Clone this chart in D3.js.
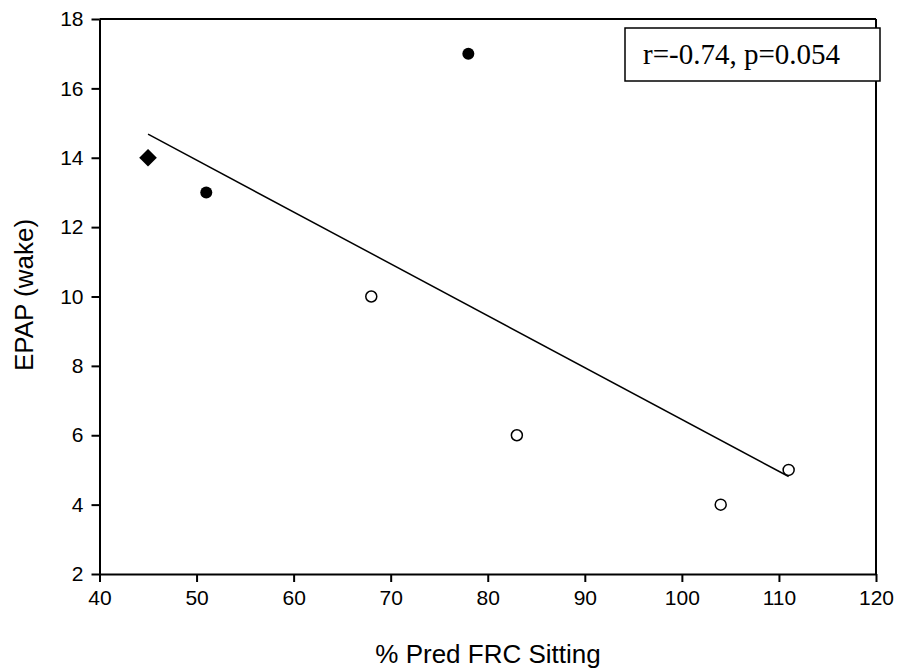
<!DOCTYPE html>
<html>
<head>
<meta charset="utf-8">
<script src="https://cdn.jsdelivr.net/npm/d3@7"></script>
<style>
body { margin: 0; background: #fff; }
</style>
</head>
<body>
<svg id="chart"></svg>
<script>
// data
var filledX = [78, 51];
var filledY = [17, 13];
var diamondX = [45];
var diamondY = [14];
var openX = [68, 83, 104, 111];
var openY = [10, 6, 4, 5];
var fitX = [45, 111];
var fitY = [14.68, 4.81];
var xTicks = [40, 50, 60, 70, 80, 90, 100, 110, 120];
var yTicks = [2, 4, 6, 8, 10, 12, 14, 16, 18];
var statText = 'r=-0.74, p=0.054';

var svgWidth = 899;
var svgHeight = 672;

var svg = d3.select('#chart')
    .attr('width', svgWidth)
    .attr('height', svgHeight);

var plotLeft = 99.5, plotRight = 876, plotTop = 19, plotBottom = 574;

var xScale = d3.scaleLinear().domain([40, 120]).range([plotLeft, plotRight]);
var yScale = d3.scaleLinear().domain([2, 18]).range([plotBottom, plotTop]);

var xAxis = d3.axisBottom(xScale).tickValues(xTicks).tickSize(8).tickPadding(8).tickSizeOuter(0);
var yAxis = d3.axisLeft(yScale).tickValues(yTicks).tickSize(8).tickPadding(8).tickSizeOuter(0);

var gx = svg.append('g')
    .attr('transform', `translate(0,${plotBottom})`)
    .call(xAxis);
var gy = svg.append('g')
    .attr('transform', `translate(${plotLeft},0)`)
    .call(yAxis);

[gx, gy].forEach(function (g) {
    g.selectAll('path, line').attr('stroke', '#000').attr('stroke-width', 2);
    g.selectAll('text')
        .attr('fill', '#000')
        .style('font-family', 'Arial, "Liberation Sans", sans-serif')
        .style('font-size', '21px');
});

// top and right frame
svg.append('line')
    .attr('x1', plotLeft).attr('x2', plotRight)
    .attr('y1', plotTop).attr('y2', plotTop)
    .attr('stroke', '#000').attr('stroke-width', 2);
svg.append('line')
    .attr('x1', plotRight).attr('x2', plotRight)
    .attr('y1', plotTop).attr('y2', plotBottom)
    .attr('stroke', '#000').attr('stroke-width', 2);

// regression line
svg.append('line')
    .attr('x1', xScale(fitX[0])).attr('y1', yScale(fitY[0]))
    .attr('x2', xScale(fitX[1])).attr('y2', yScale(fitY[1]))
    .attr('stroke', '#000').attr('stroke-width', 1.5);

svg.selectAll('circle.filled')
    .data(filledX)
    .enter()
    .append('circle')
    .attr('class', 'filled')
    .attr('cx', function (d) { return xScale(d); })
    .attr('cy', function (d, i) { return yScale(filledY[i]); })
    .attr('r', 6)
    .attr('fill', '#000');

svg.selectAll('circle.open')
    .data(openX)
    .enter()
    .append('circle')
    .attr('class', 'open')
    .attr('cx', function (d) { return xScale(d); })
    .attr('cy', function (d, i) { return yScale(openY[i]); })
    .attr('r', 5.5)
    .attr('fill', '#fff')
    .attr('stroke', '#000')
    .attr('stroke-width', 1.5);

svg.selectAll('path.diamond')
    .data(diamondX)
    .enter()
    .append('path')
    .attr('class', 'diamond')
    .attr('d', d3.symbol().type(d3.symbolDiamond2).size(150))
    .attr('transform', function (d, i) {
        return `translate(${xScale(d)},${yScale(diamondY[i])}) scale(1.15)`;
    })
    .attr('fill', '#000');

// stats box
svg.append('rect')
    .attr('x', 625).attr('y', 28)
    .attr('width', 255).attr('height', 53)
    .attr('fill', '#fff')
    .attr('stroke', '#000')
    .attr('stroke-width', 1.5);
svg.append('text')
    .attr('x', 643).attr('y', 64)
    .style('font-family', '"Times New Roman", "Liberation Serif", serif')
    .style('font-size', '29px')
    .text(statText);

// axis labels
svg.append('text')
    .attr('x', 488)
    .attr('y', 663)
    .attr('text-anchor', 'middle')
    .style('font-family', 'Arial, "Liberation Sans", sans-serif')
    .style('font-size', '26px')
    .text('% Pred FRC Sitting');

svg.append('text')
    .attr('transform', 'translate(33,295) rotate(-90)')
    .attr('text-anchor', 'middle')
    .style('font-family', 'Arial, "Liberation Sans", sans-serif')
    .style('font-size', '26px')
    .text('EPAP (wake)');
</script>
</body>
</html>
